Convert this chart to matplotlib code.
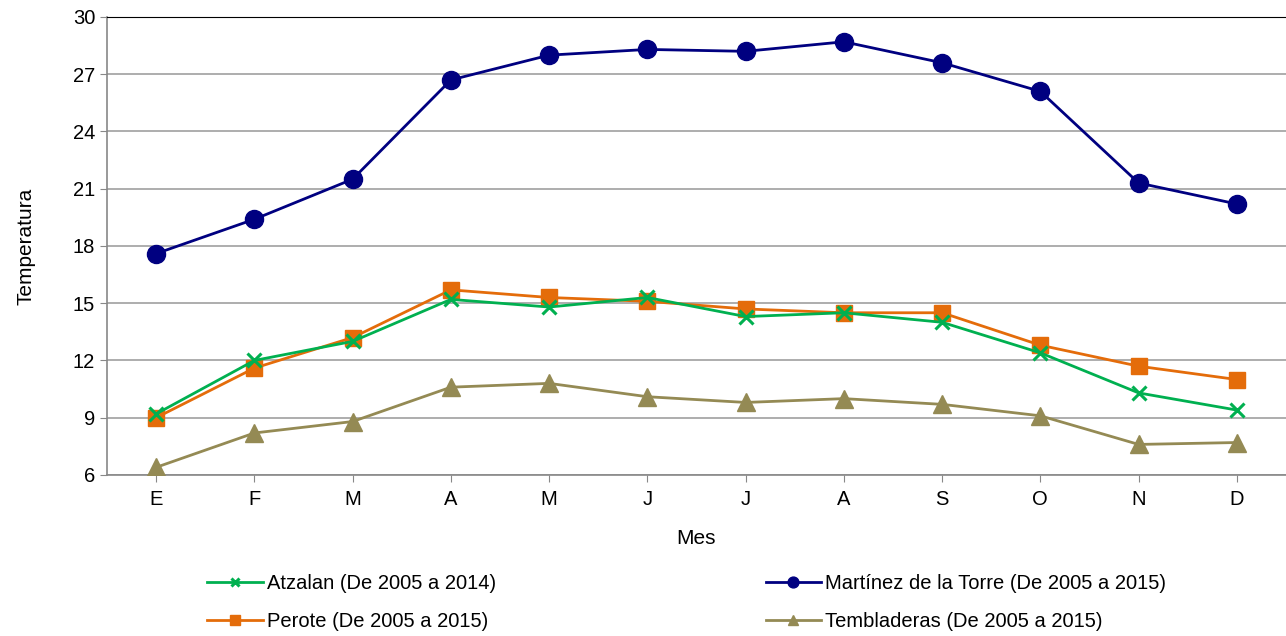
import matplotlib.pyplot as plt

plt.rcParams['font.family'] = ['Liberation Sans', 'DejaVu Sans']

meses = ['E', 'F', 'M', 'A', 'M', 'J', 'J', 'A', 'S', 'O', 'N', 'D']

atzalan = [9.2, 12.0, 13.0, 15.2, 14.8, 15.3, 14.3, 14.5, 14.0, 12.4, 10.3, 9.4]
martinez = [17.6, 19.4, 21.5, 26.7, 28.0, 28.3, 28.2, 28.7, 27.6, 26.1, 21.3, 20.2]
perote = [9.0, 11.6, 13.2, 15.7, 15.3, 15.1, 14.7, 14.5, 14.5, 12.8, 11.7, 11.0]
tembladeras = [6.4, 8.2, 8.8, 10.6, 10.8, 10.1, 9.8, 10.0, 9.7, 9.1, 7.6, 7.7]

y_ticks = [6, 9, 12, 15, 18, 21, 24, 27, 30]

fig = plt.figure(figsize=(12.86, 6.36), dpi=100)
ax = fig.add_axes([0.0832, 0.2532, 0.9168, 0.7201])

x = list(range(len(meses)))
lw = 2.0
l_atz, = ax.plot(x, atzalan, color='#00B050', lw=lw, marker='x', ms=10, mew=2.2,
                 label='Atzalan (De 2005 a 2014)', zorder=4)
l_mar, = ax.plot(x, martinez, color='#000080', lw=lw, marker='o', ms=13,
                 label='Martínez de la Torre (De 2005 a 2015)', zorder=4)
l_per, = ax.plot(x, perote, color='#E46C0A', lw=lw, marker='s', ms=12,
                 label='Perote (De 2005 a 2015)', zorder=3)
l_tem, = ax.plot(x, tembladeras, color='#948A54', lw=lw, marker='^', ms=13,
                 label='Tembladeras (De 2005 a 2015)', zorder=3)

ax.set_xlim(-0.5, len(meses) - 0.5)
ax.set_ylim(6, 30)
ax.set_yticks(y_ticks)
ax.set_xticks(x)
ax.set_xticklabels(meses)
ax.tick_params(axis='both', labelsize=14.5, colors='#000000', length=5, color='#888888')
ax.tick_params(axis='x', pad=6)

ax.yaxis.grid(True, color='#A0A0A0', lw=1.2)
ax.set_axisbelow(True)
ax.spines['right'].set_visible(False)
ax.spines['top'].set_color('#000000')
ax.spines['left'].set_color('#888888')
ax.spines['bottom'].set_color('#888888')
ax.spines['left'].set_linewidth(1.2)
ax.spines['bottom'].set_linewidth(1.2)

ax.set_xlabel('Mes', fontsize=15, labelpad=14)
ax.set_ylabel('Temperatura', fontsize=15, labelpad=27)

# column-major fill -> row 1: Atzalan, Martinez; row 2: Perote, Tembladeras
handles = [l_atz, l_per, l_mar, l_tem]
fig.legend(handles, [h.get_label() for h in handles], loc='lower left',
           bbox_to_anchor=(0.147, -0.021), ncol=2, frameon=False, fontsize=14.5,
           columnspacing=13.4, handlelength=2.75, handletextpad=0.2,
           labelspacing=0.95, markerscale=0.6)

fig.savefig('out.png', dpi=100, facecolor='white')
